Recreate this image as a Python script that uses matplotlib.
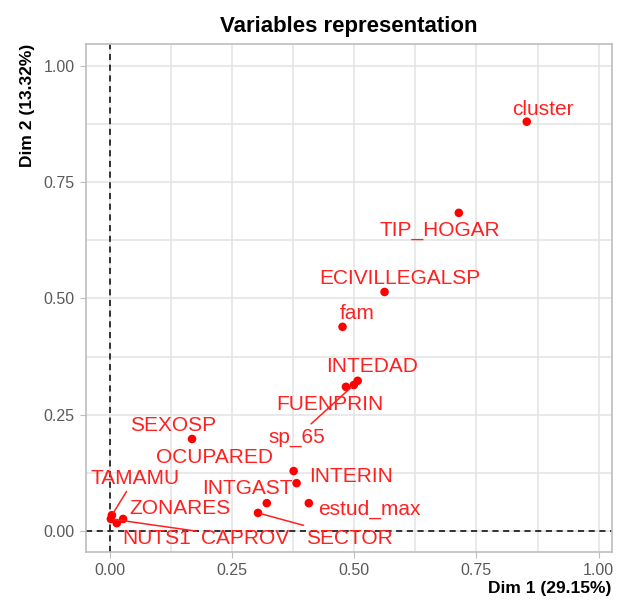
import matplotlib
matplotlib.use("Agg")
import matplotlib.pyplot as plt
from matplotlib.ticker import MultipleLocator

plt.rcParams['font.family'] = ['Liberation Sans', 'DejaVu Sans']

# variable coordinates on Dim 1 / Dim 2
names = ["cluster", "TIP_HOGAR", "ECIVILLEGALSP", "fam", "INTEDAD", "FUENPRIN",
         "sp_65", "SEXOSP", "OCUPARED", "INTERIN", "INTGAST", "estud_max",
         "SECTOR", "TAMAMU", "ZONARES", "NUTS1", "CAPROV"]
dim1 = [0.853, 0.714, 0.562, 0.476, 0.507, 0.483, 0.499, 0.168, 0.376, 0.382,
        0.321, 0.407, 0.303, 0.004, 0.027, 0.014, 0.002]
dim2 = [0.880, 0.684, 0.514, 0.439, 0.323, 0.310, 0.314, 0.198, 0.129, 0.103,
        0.060, 0.060, 0.039, 0.034, 0.026, 0.017, 0.026]

# where the repelled labels sit (label centre)
lab_x = [0.885, 0.675, 0.593, 0.507, 0.536, 0.450, 0.382, 0.129, 0.215, 0.493,
         0.282, 0.530, 0.491, 0.051, 0.143, 0.096, 0.276]
lab_y = [0.907, 0.647, 0.544, 0.467, 0.353, 0.273, 0.202, 0.226, 0.159, 0.118,
         0.092, 0.047, -0.015, 0.114, 0.049, -0.015, -0.015]
with_segment = ["sp_65", "SECTOR", "TAMAMU", "CAPROV"]

fig = plt.figure(figsize=(6.23, 6.03), dpi=100)
ax = fig.add_axes([0.138, 0.0846, 0.844, 0.8424])

ax.set_xlim(-0.049, 1.027)
ax.set_ylim(-0.045, 1.047)
ax.xaxis.set_major_locator(MultipleLocator(0.25))
ax.yaxis.set_major_locator(MultipleLocator(0.25))
ax.xaxis.set_minor_locator(MultipleLocator(0.125))
ax.yaxis.set_minor_locator(MultipleLocator(0.125))
ax.grid(True, which='major', color='#E3E3E3', lw=1.1)
ax.grid(True, which='minor', color='#E3E3E3', lw=1.1)
ax.set_axisbelow(True)
for s in ax.spines.values():
    s.set_color('#BDBDBD')
    s.set_linewidth(1.2)
ax.tick_params(which='major', length=4, color='#BDBDBD', labelsize=11.5,
               labelcolor='#5A5A5A', pad=4)
ax.tick_params(which='minor', length=0)
ax.xaxis.set_major_formatter(matplotlib.ticker.FormatStrFormatter('%.2f'))
ax.yaxis.set_major_formatter(matplotlib.ticker.FormatStrFormatter('%.2f'))

ax.axhline(0, color='black', ls=(0, (4, 3)), lw=1.1, zorder=1)
ax.axvline(0, color='black', ls=(0, (4, 3)), lw=1.1, zorder=1)

ax.scatter(dim1, dim2, s=38, color='#FF0000', zorder=3, edgecolors='none')

for n, px, py, tx, ty in zip(names, dim1, dim2, lab_x, lab_y):
    if n in with_segment:
        ax.annotate(n, xy=(px, py), xytext=(tx, ty), ha='center', va='center',
                    color='#FF2020', fontsize=15,
                    arrowprops=dict(arrowstyle='-', color='#FF2020', lw=1.1,
                                    shrinkA=1, shrinkB=2))
    else:
        ax.text(tx, ty, n, ha='center', va='center', color='#FF2020', fontsize=15)

ax.set_title("Variables representation", fontsize=16, fontweight='bold', pad=9)
ax.set_xlabel("Dim 1 (29.15%)", fontsize=12.5, fontweight='bold', loc='right', labelpad=2)
ax.set_ylabel("Dim 2 (13.32%)", fontsize=12.5, fontweight='bold', loc='top', labelpad=6)

fig.savefig("out.png", dpi=100)
